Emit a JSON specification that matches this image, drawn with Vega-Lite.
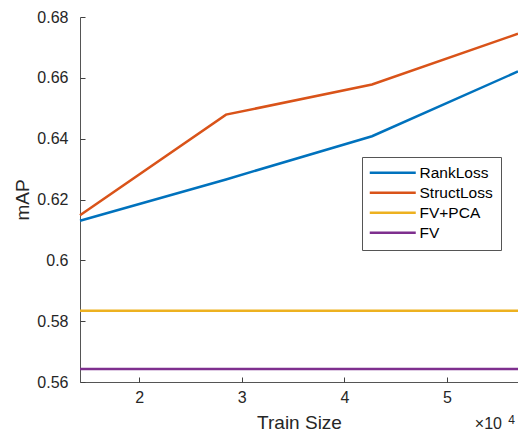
{
  "$schema": "https://vega.github.io/schema/vega-lite/v6.json",
  "width": 438,
  "height": 365,
  "autosize": "none",
  "padding": {"left": 80, "top": 17, "right": 0, "bottom": 50},
  "background": "white",
  "config": {
    "font": "Liberation Sans",
    "view": {"stroke": null},
    "axis": {
      "domainColor": "#555555",
      "tickColor": "#404040",
      "labelColor": "#262626",
      "titleColor": "#262626",
      "labelFontSize": 16,
      "titleFontSize": 19,
      "titleFontWeight": "normal",
      "grid": false
    }
  },
  "resolve": {"axis": {"x": "independent", "y": "independent"}},
  "data": {
    "values": [
      {"size": 14230, "mAP": 0.6130, "method": "RankLoss"},
      {"size": 28460, "mAP": 0.6266, "method": "RankLoss"},
      {"size": 42690, "mAP": 0.6408, "method": "RankLoss"},
      {"size": 56920, "mAP": 0.6621, "method": "RankLoss"},
      {"size": 14230, "mAP": 0.6148, "method": "StructLoss"},
      {"size": 28460, "mAP": 0.6479, "method": "StructLoss"},
      {"size": 42690, "mAP": 0.6578, "method": "StructLoss"},
      {"size": 56920, "mAP": 0.6745, "method": "StructLoss"},
      {"size": 14230, "mAP": 0.5834, "method": "FV+PCA"},
      {"size": 56920, "mAP": 0.5834, "method": "FV+PCA"},
      {"size": 14230, "mAP": 0.5643, "method": "FV"},
      {"size": 56920, "mAP": 0.5643, "method": "FV"}
    ]
  },
  "layer": [
    {
      "mark": {"type": "line", "strokeWidth": 2.5},
      "encoding": {
        "x": {
          "field": "size",
          "type": "quantitative",
          "scale": {"domain": [14230, 56920], "nice": false, "zero": false},
          "axis": {
            "title": "Train Size",
            "values": [20000, 30000, 40000, 50000],
            "labelExpr": "format(datum.value / 10000, 'd')",
            "ticks": false,
            "labelPadding": 7,
            "titlePadding": 8
          }
        },
        "y": {
          "field": "mAP",
          "type": "quantitative",
          "scale": {"domain": [0.56, 0.68], "nice": false, "zero": false},
          "axis": {
            "title": "mAP",
            "values": [0.56, 0.58, 0.6, 0.62, 0.64, 0.66, 0.68],
            "format": ".2~f",
            "ticks": false,
            "labelPadding": 12,
            "titlePadding": 4
          }
        },
        "color": {
          "field": "method",
          "type": "nominal",
          "scale": {
            "domain": ["RankLoss", "StructLoss", "FV+PCA", "FV"],
            "range": ["#0072BD", "#D95319", "#EDB120", "#7E2F8E"]
          },
          "legend": {
            "title": null,
            "orient": "none",
            "legendX": 282,
            "legendY": 140,
            "symbolType": "M-4.6,0H4.6",
            "symbolSize": 100,
            "symbolStrokeWidth": 2.5,
            "symbolOffset": 15,
            "labelFontSize": 15.5,
            "labelColor": "#000000",
            "labelOffset": 19,
            "padding": 8,
            "strokeColor": "#555555",
            "fillColor": "white",
            "rowPadding": 3
          }
        }
      }
    },
    {
      "mark": {"type": "line", "opacity": 0},
      "encoding": {
        "x": {
          "field": "size",
          "type": "quantitative",
          "axis": {
            "orient": "top",
            "offset": -365,
            "values": [20000, 30000, 40000, 50000],
            "domain": false,
            "labels": false,
            "title": null,
            "tickSize": 5,
            "tickWidth": 1,
            "zindex": 1
          }
        },
        "y": {
          "field": "mAP",
          "type": "quantitative",
          "axis": {
            "orient": "right",
            "offset": -438,
            "values": [0.56, 0.58, 0.6, 0.62, 0.64, 0.66, 0.68],
            "domain": false,
            "labels": false,
            "title": null,
            "tickSize": 5,
            "tickWidth": 1,
            "zindex": 1
          }
        },
        "detail": {"field": "method"}
      }
    },
    {
      "data": {"values": [{"label": "×10"}]},
      "mark": {"type": "text", "fontSize": 16, "align": "right", "baseline": "alphabetic", "dx": -16, "dy": 47, "color": "#262626"},
      "encoding": {"text": {"field": "label"}, "x": {"datum": 56920, "type": "quantitative", "axis": null}, "y": {"datum": 0.56, "type": "quantitative", "axis": null}}
    },
    {
      "data": {"values": [{"label": "4"}]},
      "mark": {"type": "text", "fontSize": 12, "align": "right", "baseline": "alphabetic", "dx": -3, "dy": 42, "color": "#262626"},
      "encoding": {"text": {"field": "label"}, "x": {"datum": 56920, "type": "quantitative", "axis": null}, "y": {"datum": 0.56, "type": "quantitative", "axis": null}}
    }
  ]
}
